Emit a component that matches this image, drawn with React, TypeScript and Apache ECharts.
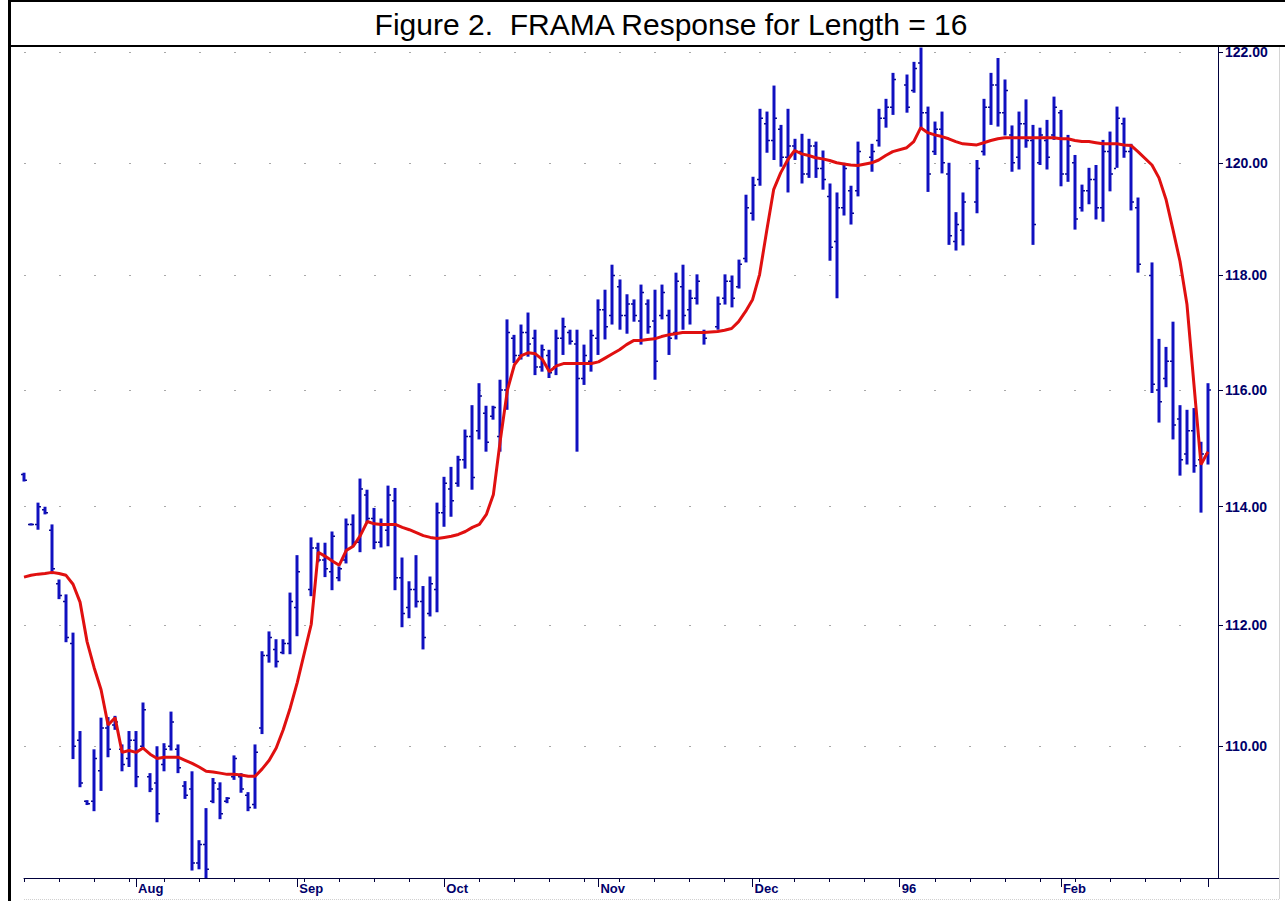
import React, { useEffect, useRef } from 'react';
import * as echarts from 'echarts';

// ---- DATA ----
const START_DATE = [1995, 6, 10]; // 10 Jul 1995, first weekday shown
const BAR_COUNT = 170;
const priceTicks = [110, 112, 114, 116, 118, 120, 122];
const monthLabels: Record<number, string> = { 7: 'Aug', 8: 'Sep', 9: 'Oct', 10: 'Nov', 11: 'Dec', 0: '96', 1: 'Feb' };

const highs = [
  114.58, 113.72, 114.07, 114.00, 113.70, 112.77, 112.52, 111.88, 110.25, 109.12,
  109.95, 110.47, 110.48, 110.50, 110.03, 110.25, 110.25, 110.72, 109.56, 110.00,
  110.05, 110.57, 110.03, 109.43, 109.59, 108.47, 108.99, 109.48, 109.41, 109.17,
  109.85, 109.56, 109.25, 110.03, 111.57, 111.90, 111.77, 111.77, 112.55, 113.18,
  null, 113.48, 113.39, 113.39, 113.58, 112.99, 113.80, 113.87, 114.48, 114.29,
  113.98, 113.80, 114.36, 114.32, 113.14, 112.74, 113.18, 112.66, 112.82, 114.07,
  114.51, 114.68, 114.87, 115.32, 115.74, 116.12, 115.73, 115.73, 116.18, 117.23,
  116.96, 117.14, 117.35, 117.05, 116.79, 116.70, 117.05, 117.26, 117.05, 117.05,
  116.79, 117.05, 117.58, 117.75, 118.19, 117.93, 117.67, 117.58, 117.84, 117.58,
  117.75, 117.84, 117.40, 118.05, 118.19, 117.75, 118.02, 117.05, null, 117.63,
  118.02, 118.00, 118.28, 119.43, 119.75, 120.97, 120.92, 121.39, 120.68, 120.97,
  120.43, 120.52, 120.43, 120.38, 120.22, 119.63, 119.47, 120.00, 119.59, 120.38,
  null, 120.34, 120.97, 121.15, 121.62, null, 121.59, 121.82, 122.08, 121.01,
  120.74, 120.92, 120.00, 119.12, 119.47, null, 120.05, 121.15, 121.62, 121.89,
  121.50, 120.67, 120.92, 121.14, 120.68, 120.63, 120.77, 121.19, 120.95, 120.50,
  120.14, 119.61, 119.91, 119.96, 120.41, 120.56, 121.01, 120.81, 120.34, 119.38,
  null, 118.23, 116.89, 116.75, 117.19, 115.74, 115.66, 115.69, 115.11, 116.12,
];

const lows = [
  114.43, 113.68, 113.61, 113.87, 112.86, 112.44, 111.72, 109.79, 109.33, 109.04,
  108.94, 109.27, 109.82, 110.27, 109.59, 109.66, 109.33, 109.97, 109.25, 108.76,
  109.59, 109.93, 109.56, 109.14, 107.98, 108.00, 107.86, 109.07, 108.81, 109.07,
  109.45, 109.24, 108.94, 108.98, 110.20, 111.38, 111.30, 111.52, 111.52, 111.82,
  null, 112.49, 113.06, 112.81, 112.59, 112.74, 113.04, 113.33, 113.23, 113.73,
  113.28, 113.31, 113.33, 112.59, 111.97, 112.12, 112.30, 111.60, 112.15, 112.22,
  113.66, 113.83, 114.34, 114.65, 114.29, 115.15, 114.94, 115.49, 114.94, 115.66,
  116.47, 116.53, 116.58, 116.26, 116.32, 116.21, 116.26, 116.61, 116.79, 114.94,
  116.09, 116.32, 116.61, 116.88, 117.14, 117.05, 116.98, 117.19, 116.79, 116.98,
  116.18, 117.23, 116.61, 116.88, 117.05, 117.14, 117.49, 116.79, null, 117.05,
  117.49, 117.44, 117.77, 118.23, 118.97, 119.59, 120.18, 120.05, 119.93, 119.47,
  120.05, 119.63, 119.73, 119.73, 119.52, 118.26, 117.60, 119.06, 118.90, 119.40,
  null, 119.84, 120.29, 120.63, 120.86, null, 120.90, 121.26, 120.63, 119.48,
  120.14, 119.81, 118.54, 118.44, 118.53, null, 119.10, 120.13, 120.68, 120.65,
  120.49, 119.84, 119.88, 120.27, 118.54, 119.96, 119.88, 120.41, 119.58, 119.66,
  118.81, 119.13, 119.26, 118.99, 118.95, 119.49, 119.91, 120.09, 119.15, 118.05,
  null, 115.95, 115.44, 116.05, 115.15, 114.53, 114.72, 114.58, 113.90, 114.72,
];

const opens = [
  114.55, 113.70, 113.70, 113.95, 113.60, 112.70, 112.40, 111.70, 110.10, 109.10,
  109.10, 109.60, 110.30, 110.35, 109.95, 109.80, 110.10, 110.00, 109.50, 109.40,
  109.70, 110.00, 109.95, 109.35, 109.30, 108.10, 108.40, 109.10, 109.30, 109.10,
  109.50, 109.50, 109.20, 109.05, 110.30, 111.50, 111.60, 111.55, 111.70, 112.30,
  null, 112.60, 113.30, 113.10, 112.90, 112.80, 113.10, 113.70, 113.40, 114.20,
  113.80, 113.40, 113.60, 114.10, 112.80, 112.30, 112.60, 112.40, 112.20, 112.60,
  113.90, 114.30, 114.40, 114.80, 115.20, 115.30, 115.60, 115.55, 115.20, 116.00,
  116.90, 116.60, 117.00, 116.90, 116.40, 116.60, 116.40, 116.90, 117.00, 116.80,
  116.20, 116.50, 116.90, 117.40, 117.30, 117.80, 117.30, 117.50, 117.20, 117.50,
  117.20, 117.30, 117.30, 117.00, 117.80, 117.40, 117.60, 117.00, null, 117.10,
  117.60, 117.90, 117.80, 118.30, 119.10, 119.70, 120.70, 120.40, 120.60, 120.10,
  120.30, 120.20, 119.80, 120.30, 119.90, 119.40, 118.60, 119.20, 119.50, 119.50,
  null, 120.10, 120.40, 120.80, 121.00, null, 121.40, 121.30, 121.80, 120.90,
  120.20, 120.60, 119.80, 118.60, 118.80, null, 119.30, 120.20, 121.00, 121.40,
  120.90, 120.50, 120.10, 120.70, 120.40, 120.00, 120.40, 120.50, 120.90, 119.80,
  120.00, 119.20, 119.50, 119.70, 119.20, 120.20, 119.90, 120.70, 120.20, 119.20,
  null, 118.00, 116.00, 116.20, 116.50, 115.50, 114.90, 115.30, 114.80, 114.90,
];

const closes = [
  114.45, 113.70, 114.00, 113.90, 112.95, 112.50, 111.80, 110.00, 109.40, 109.06,
  109.80, 110.30, 109.95, 110.40, 109.70, 110.10, 109.50, 110.60, 109.30, 108.90,
  109.95, 110.40, 109.65, 109.20, 108.10, 108.40, 108.00, 109.40, 108.90, 109.15,
  109.80, 109.30, 109.00, 109.90, 111.50, 111.80, 111.40, 111.70, 112.40, 112.90,
  null, 113.30, 113.10, 112.95, 113.50, 112.95, 113.70, 113.40, 114.30, 113.80,
  113.40, 113.70, 114.20, 112.80, 112.20, 112.60, 112.40, 111.80, 112.70, 113.90,
  114.40, 114.10, 114.80, 115.20, 114.50, 115.90, 115.10, 115.70, 116.00, 117.00,
  116.60, 117.00, 116.80, 116.40, 116.70, 116.30, 116.90, 117.10, 116.85, 116.20,
  116.60, 116.95, 117.40, 117.10, 118.00, 117.30, 117.50, 117.30, 117.70, 117.10,
  116.50, 117.70, 116.90, 117.90, 117.30, 117.60, 117.90, 116.90, null, 117.50,
  117.90, 117.60, 118.20, 119.20, 119.60, 120.80, 120.40, 120.80, 120.10, 120.30,
  120.20, 119.80, 120.30, 119.90, 119.70, 118.50, 119.20, 119.90, 119.10, 120.20,
  null, 120.20, 120.80, 121.00, 121.50, null, 121.00, 121.70, 120.90, 119.80,
  120.60, 120.00, 118.70, 118.90, 119.30, null, 119.90, 121.00, 121.40, 120.90,
  121.30, 120.00, 120.70, 120.40, 118.90, 120.50, 120.10, 121.00, 119.80, 120.30,
  119.00, 119.50, 119.70, 119.20, 120.20, 119.80, 120.80, 120.20, 119.30, 118.20,
  null, 116.10, 115.80, 116.50, 115.40, 114.80, 115.30, 114.70, 114.90, 116.00,
];

const frama = [
  112.81, 112.84, 112.86, 112.87, 112.89, 112.87, 112.84, 112.69, 112.39, 111.73,
  111.30, 110.93, 110.35, 110.47, 109.90, 109.93, 109.90, 109.97, 109.87, 109.80,
  109.82, 109.82, 109.82, 109.77, 109.72, 109.66, 109.59, 109.58, 109.56, 109.54,
  109.54, 109.53, 109.51, 109.51, 109.63, 109.77, 109.97, 110.27, 110.63, 111.05,
  null, 112.02, 113.23, 113.16, 113.08, 113.01, 113.26, 113.33, 113.51, 113.75,
  113.71, 113.70, 113.70, 113.70, 113.65, 113.61, 113.56, 113.51, 113.48, 113.46,
  113.48, 113.50, 113.53, 113.58, 113.65, 113.70, 113.87, 114.21, 115.15, 116.00,
  116.44, 116.60, 116.65, 116.63, 116.53, 116.32, 116.42, 116.46, 116.46, 116.46,
  116.46, 116.46, 116.49, 116.56, 116.63, 116.70, 116.79, 116.86, 116.86, 116.88,
  116.89, 116.93, 116.96, 116.98, 117.00, 117.00, 117.00, 117.00, null, 117.02,
  117.04, 117.07, 117.19, 117.37, 117.58, 118.02, 118.78, 119.52, 119.82, 120.05,
  120.22, 120.16, 120.13, 120.09, 120.07, 120.04, 120.00, 119.98, 119.96, 119.95,
  null, 120.00, 120.05, 120.13, 120.20, null, 120.27, 120.38, 120.63, 120.54,
  120.50, 120.47, 120.43, 120.38, 120.34, null, 120.32, 120.36, 120.40, 120.43,
  120.45, 120.45, 120.45, 120.45, 120.45, 120.45, 120.45, 120.45, 120.43, 120.43,
  120.40, 120.38, 120.38, 120.36, 120.34, 120.34, 120.34, 120.32, 120.31, 120.20,
  null, 119.96, 119.73, 119.35, 118.81, 118.25, 117.49, 116.09, 114.72, 114.94,
];

// weekday calendar for the category axis
function buildDates(): string[] {
  const out: string[] = [];
  const d = new Date(Date.UTC(START_DATE[0], START_DATE[1], START_DATE[2]));
  while (out.length < BAR_COUNT) {
    const wd = d.getUTCDay();
    if (wd !== 0 && wd !== 6) out.push(d.toISOString().slice(0, 10));
    d.setUTCDate(d.getUTCDate() + 1);
  }
  return out;
}
const dates = buildDates();

const BAR_COLOR = '#1010c0';
const TICK_COLOR = '#0a0a90';
const LINE_COLOR = '#e01010';
const AXIS_COLOR = '#00003c';
const LABEL_COLOR = '#00006a';

export default function App() {
  const ref = useRef<HTMLDivElement>(null);

  useEffect(() => {
    if (!ref.current) return;
    const chart = echarts.init(ref.current, undefined, { renderer: 'svg' });

    const monthOf = (s: string) => Number(s.slice(5, 7)) - 1;
    const isMonthStart = (i: number) => i > 0 && monthOf(dates[i]) !== monthOf(dates[i - 1]);
    const isMonday = (i: number) => new Date(dates[i] + 'T00:00:00Z').getUTCDay() === 1;

    const ohlc: any[] = [];
    for (let i = 0; i < dates.length; i++) {
      if (highs[i] == null) continue;
      ohlc.push([i, opens[i], highs[i], lows[i], closes[i]]);
    }

    const option: any = {
      animation: false,
      backgroundColor: '#ffffff',
      grid: { left: 24, right: 77, top: 47, bottom: 23, containLabel: false },
      xAxis: [
        {
          type: 'category',
          data: dates,
          boundaryGap: false,
          position: 'bottom',
          axisLine: { show: true, onZero: false, lineStyle: { color: AXIS_COLOR, width: 1 } },
          axisTick: {
            show: true,
            length: 4,
            interval: (i: number) => isMonday(i),
            lineStyle: { color: AXIS_COLOR },
          },
          axisLabel: { show: false },
          splitLine: { show: false },
        },
        {
          type: 'category',
          data: dates,
          boundaryGap: false,
          position: 'bottom',
          axisLine: { show: false, onZero: false },
          axisTick: {
            show: true,
            length: 9,
            interval: (i: number) => isMonthStart(i),
            lineStyle: { color: AXIS_COLOR },
          },
          axisLabel: {
            show: true,
            interval: (i: number) => isMonthStart(i) && i < dates.length - 1,
            formatter: (v: string) => monthLabels[monthOf(v)] ?? '',
            align: 'left',
            padding: [0, 0, 0, 2],
            margin: 4,
            color: LABEL_COLOR,
            fontWeight: 'bold',
            fontSize: 13,
            fontFamily: 'Arial, "Liberation Sans", sans-serif',
          },
          splitLine: { show: false },
        },
      ],
      yAxis: {
        type: 'log',
        logBase: 10,
        position: 'right',
        offset: 10,
        min: 107.86,
        max: 122.09,
        axisLine: { show: true, lineStyle: { color: AXIS_COLOR, width: 1 } },
        axisTick: { show: true, length: 5, customValues: priceTicks, lineStyle: { color: AXIS_COLOR } },
        axisLabel: {
          customValues: priceTicks,
          formatter: (v: number) => Number(v).toFixed(2),
          color: LABEL_COLOR,
          fontWeight: 'bold',
          fontSize: 14,
          fontFamily: 'Arial, "Liberation Sans", sans-serif',
          margin: 7,
        },
        splitLine: { show: true, lineStyle: { color: '#a8a8a8', width: 1, type: [2, 33] } },
      },
      series: [
        {
          type: 'custom',
          name: 'Bars',
          xAxisIndex: 0,
          data: ohlc,
          encode: { x: 0, y: [1, 2, 3, 4] },
          renderItem: (params: any, api: any) => {
            const x = api.value(0);
            const pH = api.coord([x, api.value(2)]);
            const pL = api.coord([x, api.value(3)]);
            const pO = api.coord([x, api.value(1)]);
            const pC = api.coord([x, api.value(4)]);
            const cx = Math.round(pH[0]);
            let y1 = pH[1];
            let y2 = pL[1];
            if (y2 - y1 < 2) { y1 -= 1; y2 += 1; }
            return {
              type: 'group',
              children: [
                { type: 'line', shape: { x1: cx, y1, x2: cx, y2 }, style: { stroke: BAR_COLOR, lineWidth: 3 } },
                { type: 'line', shape: { x1: cx - 3, y1: pO[1], x2: cx - 1, y2: pO[1] }, style: { stroke: TICK_COLOR, lineWidth: 1.5 } },
                { type: 'line', shape: { x1: cx + 1, y1: pC[1], x2: cx + 3, y2: pC[1] }, style: { stroke: TICK_COLOR, lineWidth: 1.5 } },
              ],
            };
          },
          z: 2,
        },
        {
          type: 'line',
          name: 'FRAMA',
          xAxisIndex: 0,
          data: frama,
          connectNulls: true,
          showSymbol: false,
          symbol: 'none',
          lineStyle: { color: LINE_COLOR, width: 3 },
          z: 3,
        },
      ],
      graphic: [
        {
          type: 'text',
          x: 671,
          y: 24,
          z: 10,
          style: {
            text: 'Figure 2.  FRAMA Response for Length = 16',
            fontSize: 30,
            fontFamily: 'Arial, "Liberation Sans", sans-serif',
            fill: '#000000',
            textAlign: 'center',
            textVerticalAlign: 'middle',
          },
        },
        { type: 'rect', shape: { x: 8, y: 0, width: 1285, height: 2 }, style: { fill: '#000000' }, z: 10 },
        { type: 'rect', shape: { x: 8, y: 45, width: 1285, height: 2 }, style: { fill: '#000000' }, z: 10 },
        { type: 'rect', shape: { x: 8, y: 0, width: 3, height: 901 }, style: { fill: '#000000' }, z: 10 },
        { type: 'line', shape: { x1: 1208, y1: 878.5, x2: 1280, y2: 878.5 }, style: { stroke: AXIS_COLOR, lineWidth: 1 }, z: 10 },
        { type: 'line', shape: { x1: 1279.5, y1: 47, x2: 1279.5, y2: 899 }, style: { stroke: '#d4d4d4', lineWidth: 1 }, z: 10 },
        { type: 'line', shape: { x1: 24, y1: 899.5, x2: 1280, y2: 899.5 }, style: { stroke: '#d0d0d0', lineWidth: 1, lineDash: [1, 1] }, z: 10 },
      ],
    };

    chart.setOption(option);
    return () => chart.dispose();
  }, []);

  return (
    <div
      ref={ref}
      style={{ position: 'fixed', left: 0, top: 0, width: 1285, height: 901, background: '#ffffff' }}
    />
  );
}
